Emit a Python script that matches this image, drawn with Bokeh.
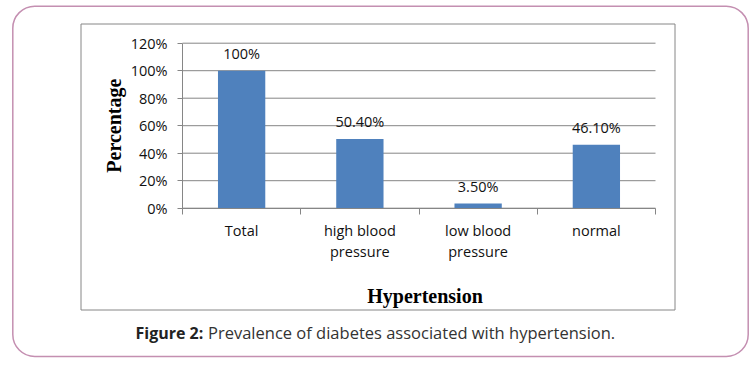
import math
from bokeh.plotting import figure
from bokeh.models import (Range1d, FixedTicker, LabelSet, Label, BoxAnnotation,
                          ColumnDataSource, LinearAxis)
from bokeh.core.properties import value
from bokeh.embed import file_html
from bokeh.resources import INLINE

# ---- data ----
categories = ["Total", "high blood pressure", "low blood pressure", "normal"]
category_tick_labels = ["Total", "high blood\npressure", "low blood\npressure", "normal"]
values = [1.00, 0.504, 0.035, 0.461]
value_labels = ["100%", "50.40%", "3.50%", "46.10%"]
y_ticks = [0, 0.2, 0.4, 0.6, 0.8, 1.0, 1.2]
y_tick_labels = ["0%", "20%", "40%", "60%", "80%", "100%", "120%"]
x_title = "Hypertension"
y_title = "Percentage"
caption_bold = "Figure 2:"
caption_text = "Prevalence of diabetes associated with hypertension."

BAR = "#4F81BD"
GRID = "#868686"
PINK = "#c48fb1"
FONT = "Open Sans"
SERIF = "Liberation Serif"
TXT = "#111111"
FS = "14.5px"

# ---- layout (canvas pixels) ----
W, H = 750, 360
PL, PR, PT, PB = 182.0, 655.0, 42.7, 207.7   # plot area edges
n = len(categories)
ymax = y_ticks[-1]

# the whole canvas is the frame; a pixel range carries the decorations
p = figure(width=W, height=H, output_backend="svg", toolbar_location=None,
           x_range=Range1d(0, W), y_range=Range1d(H, 0),
           x_axis_location=None, y_axis_location=None,
           min_border=0, min_border_left=0, min_border_right=0,
           min_border_top=0, min_border_bottom=0)
p.outline_line_color = None
p.background_fill_color = "white"
p.border_fill_color = "white"
p.xgrid.visible = False
p.ygrid.visible = False

# chart scales: categories 0..n over PL..PR, percentage 0..ymax over PB..PT
kx = n / (PR - PL)
ky = ymax / (PB - PT)
p.extra_x_ranges = {"cat": Range1d((0 - PL) * kx, (W - PL) * kx)}
p.extra_y_ranges = {"pct": Range1d((PB - H) * ky, (PB - 0) * ky)}

xs = [i + 0.5 for i in range(n)]
src = ColumnDataSource(dict(x=xs, top=values, lab=value_labels, cat=categories))

# gridlines
p.segment(x0=[0] * len(y_ticks), x1=[n] * len(y_ticks), y0=y_ticks, y1=y_ticks,
          x_range_name="cat", y_range_name="pct", line_color=GRID, line_width=1)

p.vbar(x="x", top="top", width=0.4, source=src, fill_color=BAR, line_color=None,
       x_range_name="cat", y_range_name="pct")

# x axis: labels at category centres, tick marks at category boundaries
xa = LinearAxis(x_range_name="cat", y_range_name="pct", fixed_location=0,
                bounds=(0, n),
                ticker=FixedTicker(ticks=xs, minor_ticks=[float(i) for i in range(n + 1)]))
xa.major_label_overrides = {x: l for x, l in zip(xs, category_tick_labels)}
xa.major_tick_line_color = None
xa.major_tick_out = 0
xa.major_tick_in = 0
xa.minor_tick_out = 6
xa.minor_tick_in = 0
xa.minor_tick_line_color = GRID
xa.axis_line_color = GRID
xa.major_label_standoff = 7
xa.major_label_text_font = FONT
xa.major_label_text_font_size = FS
xa.major_label_text_color = TXT
xa.major_label_text_line_height = 1.1
p.add_layout(xa, "below")

ya = LinearAxis(x_range_name="cat", y_range_name="pct", fixed_location=0,
                bounds=(0, ymax), ticker=FixedTicker(ticks=y_ticks))
ya.major_label_overrides = {t: l for t, l in zip(y_ticks, y_tick_labels)}
ya.major_tick_out = 5
ya.major_tick_in = 0
ya.minor_tick_line_color = None
ya.major_tick_line_color = GRID
ya.axis_line_color = GRID
ya.major_label_standoff = 10
ya.major_label_text_font = FONT
ya.major_label_text_font_size = FS
ya.major_label_text_color = TXT
p.add_layout(ya, "left")

labels = LabelSet(x="x", y="top", text="lab", source=src, text_align="center",
                  text_baseline="alphabetic", y_offset=11.5, text_font=value(FONT),
                  text_font_size=FS, text_color=TXT,
                  x_range_name="cat", y_range_name="pct")
p.add_layout(labels)

# decorations: inner chart box and outer rounded frame
p.add_layout(BoxAnnotation(left=80.5, right=674.5, top=23.5, bottom=309.5,
                           fill_color=None, fill_alpha=0, line_color=GRID,
                           line_width=1, line_alpha=1))
p.add_layout(BoxAnnotation(left=12.3, right=747.7, top=5.7, bottom=356,
                           fill_color=None, fill_alpha=0, line_color=PINK,
                           line_width=1.5, line_alpha=1, border_radius=22))

# axis titles and caption
p.add_layout(Label(x=113, y=(PT + PB) / 2, text=y_title, angle=math.pi / 2,
                   text_align="center", text_baseline="alphabetic", text_font=SERIF,
                   text_font_style="bold", text_font_size="20px", text_color="#000000"))
p.add_layout(Label(x=424.5, y=295, text=x_title,
                   text_align="center", text_baseline="alphabetic", text_font=SERIF,
                   text_font_style="bold", text_font_size="20px", text_color="#000000"))
p.add_layout(Label(x=135, y=332, text=caption_bold,
                   text_align="left", text_baseline="alphabetic", text_font=FONT,
                   text_font_style="bold", text_font_size="16px", text_color="#222222"))
p.add_layout(Label(x=207.5, y=332, text=caption_text,
                   text_align="left", text_baseline="alphabetic", text_font=FONT,
                   text_font_size="16.5px", text_color="#333333"))

open("out.html", "w").write(file_html(p, INLINE))
